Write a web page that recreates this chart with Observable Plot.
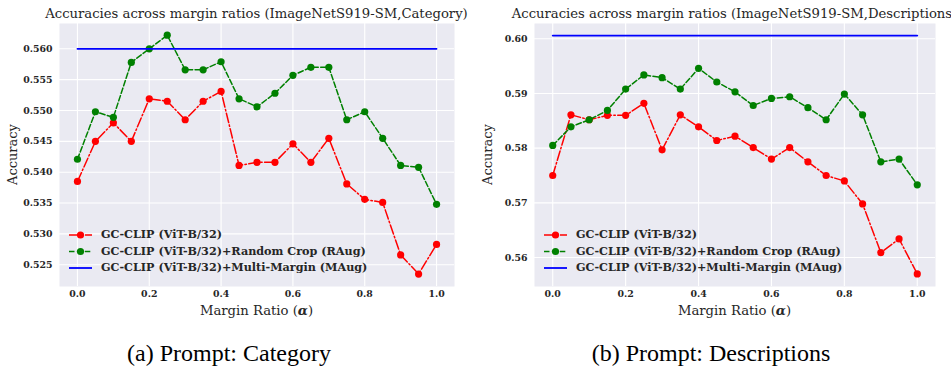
<!DOCTYPE html>
<html><head><meta charset="utf-8">
<script src="https://cdn.jsdelivr.net/npm/d3@7"></script>
<script src="https://cdn.jsdelivr.net/npm/@observablehq/plot@0.6"></script>
<style>
html,body{margin:0;padding:0;background:#fff;overflow:hidden;}
#wrap{position:relative;width:951px;height:371px;overflow:hidden;}
.chart{position:absolute;top:0;}
.cap{position:absolute;top:341px;font-family:"Liberation Serif","Times New Roman",serif;font-size:24px;line-height:1;color:#000;transform:translateX(-50%);white-space:nowrap;}
</style></head><body>
<div id="wrap"></div>
<script>
// ---- data ----
const alphas = [0, 0.05, 0.1, 0.15, 0.2, 0.25, 0.3, 0.35, 0.4, 0.45, 0.5, 0.55, 0.6, 0.65, 0.7, 0.75, 0.8, 0.85, 0.9, 0.95, 1.0];
const seriesNames = ["GC-CLIP (ViT-B/32)", "GC-CLIP (ViT-B/32)+Random Crop (RAug)", "GC-CLIP (ViT-B/32)+Multi-Margin (MAug)"];
const seriesColors = ["#ff0000", "#008000", "#0000ff"];

const catBase = [0.5385, 0.5450, 0.5480, 0.5450, 0.5519, 0.5515, 0.5485, 0.5515, 0.5531, 0.5411, 0.5416, 0.5416, 0.5446, 0.5416, 0.5455, 0.5381, 0.5356, 0.5351, 0.5266, 0.5235, 0.5283];
const catRAug = [0.5421, 0.5498, 0.5489, 0.5578, 0.5600, 0.5622, 0.5566, 0.5566, 0.5579, 0.5519, 0.5506, 0.5528, 0.5557, 0.5570, 0.5570, 0.5485, 0.5498, 0.5455, 0.5411, 0.5408, 0.5348];
const catMAug = 0.5600;

const descBase = [0.5750, 0.5861, 0.5852, 0.5860, 0.5860, 0.5882, 0.5797, 0.5861, 0.5839, 0.5814, 0.5822, 0.5801, 0.5780, 0.5801, 0.5775, 0.5750, 0.5740, 0.5698, 0.5609, 0.5634, 0.5570];
const descRAug = [0.5805, 0.5839, 0.5852, 0.5869, 0.5908, 0.5934, 0.5929, 0.5908, 0.5946, 0.5921, 0.5903, 0.5878, 0.5891, 0.5894, 0.5874, 0.5852, 0.5899, 0.5861, 0.5775, 0.5780, 0.5733];
const descMAug = 0.6006;

const xTicks = [0, 0.2, 0.4, 0.6, 0.8, 1.0];
const catYTicks = [0.525, 0.530, 0.535, 0.540, 0.545, 0.550, 0.555, 0.560];
const descYTicks = [0.56, 0.57, 0.58, 0.59, 0.60];

const titles = ["Accuracies across margin ratios (ImageNetS919-SM,Category)", "Accuracies across margin ratios (ImageNetS919-SM,Descriptions)"];
const captions = ["(a) Prompt: Category", "(b) Prompt: Descriptions"];
const yLabel = "Accuracy";
const xLabelText = "Margin Ratio (";
const xLabelSym = "\u03B1";

// ---- drawing ----
const FONT = "'DejaVu Serif', serif";
const TXT = "#262626";
const wrap = document.getElementById("wrap");

function makeChart(opts) {
  const {left, width, marginLeft, marginRight, base, raug, maug, yDomain, yTicks, yFmt, title} = opts;
  const H = 320, mT = 23, mB = 34;
  const baseData = alphas.map((a, i) => ({x: a, y: base[i]}));
  const raugData = alphas.map((a, i) => ({x: a, y: raug[i]}));
  const maugData = alphas.map(a => ({x: a, y: maug}));
  const svg = Plot.plot({
    width, height: H, marginLeft, marginRight, marginTop: mT, marginBottom: mB,
    style: {fontFamily: FONT, background: "transparent", color: TXT, overflow: "visible"},
    x: {domain: [-0.05, 1.05]},
    y: {domain: yDomain},
    marks: [
      Plot.frame({fill: "#eaeaf2", stroke: null}),
      Plot.gridX(xTicks, {stroke: "#ffffff", strokeOpacity: 1, strokeWidth: 1.1}),
      Plot.gridY(yTicks, {stroke: "#ffffff", strokeOpacity: 1, strokeWidth: 1.1}),
      Plot.axisX(xTicks, {tickSize: 0, tickPadding: 4, tickFormat: d3.format(".1f"), fontWeight: "bold", fontSize: 9.4, label: null}),
      Plot.axisY(yTicks, {tickSize: 0, tickPadding: 7, tickFormat: d3.format(yFmt), fontWeight: "bold", fontSize: 9.4, label: null}),
      Plot.line(baseData, {x: "x", y: "y", stroke: seriesColors[0], strokeWidth: 1.5, strokeDasharray: "9.6,2.4,1.5,2.4"}),
      Plot.dot(baseData, {x: "x", y: "y", fill: seriesColors[0], r: 3.6}),
      Plot.line(raugData, {x: "x", y: "y", stroke: seriesColors[1], strokeWidth: 1.5, strokeDasharray: "5.5,2.4"}),
      Plot.dot(raugData, {x: "x", y: "y", fill: seriesColors[1], r: 3.6}),
      Plot.line(maugData, {x: "x", y: "y", stroke: seriesColors[2], strokeWidth: 1.8})
    ]
  });
  svg.classList.add("chart");
  svg.style.left = left + "px";
  const s = d3.select(svg);
  const cx = marginLeft + (width - marginLeft - marginRight) / 2;
  const cy = mT + (H - mT - mB) / 2;
  // title
  s.append("text").attr("x", cx).attr("y", 18).attr("text-anchor", "middle")
    .attr("font-family", FONT).attr("font-size", 13.2).attr("fill", TXT).text(title);
  // y label
  s.append("text").attr("transform", `translate(13,${cy}) rotate(-90)`).attr("text-anchor", "middle")
    .attr("dominant-baseline", "middle").attr("font-family", FONT).attr("font-size", 13).attr("fill", TXT).text(yLabel);
  // x label
  const xl = s.append("text").attr("x", cx).attr("y", 311).attr("text-anchor", "middle")
    .attr("dominant-baseline", "middle").attr("font-family", FONT).attr("font-size", 13.2).attr("fill", TXT);
  xl.append("tspan").text(xLabelText);
  xl.append("tspan").attr("font-weight", "bold").attr("font-style", "italic").text(xLabelSym);
  xl.append("tspan").text(")");
  // legend
  const lx = 69, ly = [235, 251.5, 268];
  const dashes = ["9.6,2.4,1.5,2.4", "5.5,2.4", null];
  seriesNames.forEach((name, i) => {
    const g = s.append("g");
    g.append("line").attr("x1", lx).attr("x2", lx + 23).attr("y1", ly[i]).attr("y2", ly[i])
      .attr("stroke", seriesColors[i]).attr("stroke-width", i === 2 ? 1.8 : 1.5)
      .attr("stroke-dasharray", dashes[i]);
    if (i < 2) g.append("circle").attr("cx", lx + 11.5).attr("cy", ly[i]).attr("r", 3.6).attr("fill", seriesColors[i]);
    g.append("text").attr("x", lx + 32).attr("y", ly[i]).attr("dominant-baseline", "middle")
      .attr("text-anchor", "start")
      .attr("font-family", FONT).attr("font-weight", "bold").attr("font-size", 11.2).attr("fill", TXT).text(name);
  });
  wrap.appendChild(svg);
}

makeChart({left: 0, width: 475, marginLeft: 59, marginRight: 21, base: catBase, raug: catRAug, maug: catMAug,
  yDomain: [0.52148, 0.5641], yTicks: catYTicks, yFmt: ".3f", title: titles[0]});
makeChart({left: 475, width: 476, marginLeft: 59, marginRight: 16, base: descBase, raug: descRAug, maug: descMAug,
  yDomain: [0.5547, 0.6028], yTicks: descYTicks, yFmt: ".2f", title: titles[1]});

const capX = [229, 711];
captions.forEach((c, i) => {
  const d = document.createElement("div");
  d.className = "cap";
  d.style.left = capX[i] + "px";
  d.textContent = c;
  wrap.appendChild(d);
});
</script>
</body></html>
